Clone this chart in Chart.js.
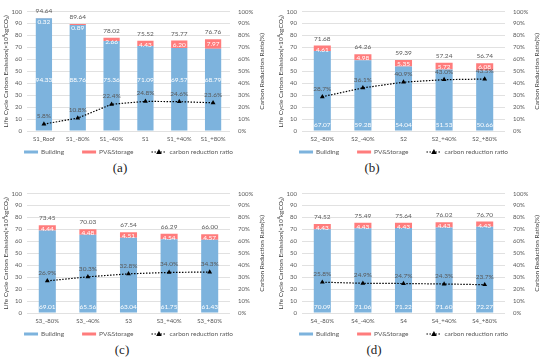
<!DOCTYPE html>
<html>
<head>
<meta charset="utf-8">
<script src="https://cdn.jsdelivr.net/npm/chart.js@4.4.1/dist/chart.umd.min.js"></script>
<style>
  body { margin: 0; background: #fff; }
  #wrap { position: relative; width: 550px; height: 358px; overflow: hidden; }
  .panel { position: absolute; width: 275px; height: 160px; }
  .cap { position: absolute; font-family: "Liberation Serif", serif; font-size: 13px; color: #222; transform: translate(-50%, -50%); }
</style>
</head>
<body>
<div id="wrap">
  <div class="panel" style="left:0;top:0"><canvas id="ca" width="275" height="160"></canvas></div>
  <div class="panel" style="left:275px;top:0"><canvas id="cb" width="275" height="160"></canvas></div>
  <div class="panel" style="left:0;top:182px"><canvas id="cc" width="275" height="160"></canvas></div>
  <div class="panel" style="left:275px;top:182px"><canvas id="cd" width="275" height="160"></canvas></div>
  <div class="cap" style="left:120px;top:168px">(a)</div>
  <div class="cap" style="left:372px;top:168px">(b)</div>
  <div class="cap" style="left:122px;top:350px">(c)</div>
  <div class="cap" style="left:374px;top:350px">(d)</div>
</div>
<script>
// panel (a)
const catsA = ['S1_Roof', 'S1_-80%', 'S1_-40%', 'S1', 'S1_+40%', 'S1_+80%'];
const buildA = [94.33, 88.76, 75.36, 71.09, 69.57, 68.79];
const pvA = [0.32, 0.89, 2.66, 4.43, 6.20, 7.97];
const totalA = [94.64, 89.64, 78.02, 75.52, 75.77, 76.76];
const ratioA = [5.8, 10.8, 22.4, 24.8, 24.6, 23.6];
// panel (b)
const catsB = ['S2_-80%', 'S2_-40%', 'S2', 'S2_+40%', 'S2_+80%'];
const buildB = [67.07, 59.28, 54.04, 51.53, 50.66];
const pvB = [4.61, 4.98, 5.35, 5.72, 6.08];
const totalB = [71.68, 64.26, 59.39, 57.24, 56.74];
const ratioB = [28.7, 36.1, 40.9, 43.0, 43.5];
// panel (c)
const catsC = ['S3_-80%', 'S3_-40%', 'S3', 'S3_+40%', 'S3_+80%'];
const buildC = [69.01, 65.56, 63.04, 61.75, 61.43];
const pvC = [4.44, 4.48, 4.51, 4.54, 4.57];
const totalC = [73.45, 70.03, 67.54, 66.29, 66.00];
const ratioC = [26.9, 30.3, 32.8, 34.0, 34.3];
// panel (d)
const catsD = ['S4_-80%', 'S4_-40%', 'S4', 'S4_+40%', 'S4_+80%'];
const buildD = [70.09, 71.06, 71.22, 71.60, 72.27];
const pvD = [4.43, 4.43, 4.43, 4.43, 4.43];
const totalD = [74.52, 75.49, 75.64, 76.02, 76.70];
const ratioD = [25.8, 24.9, 24.7, 24.3, 23.7];

const leftTicks = [0, 10, 20, 30, 40, 50, 60, 70, 80, 90, 100];
const legendNames = ['Building', 'PV&Storage', 'carbon reduction ratio'];
const leftTitle = 'Life Cycle Carbon Emission(\u00d710\u2074kgCO\u2082)';
const rightTitle = 'Carbon Reduction Ratio(%)';

const BLUE = '#7db3dd';
const RED = '#ff7c7c';
const FONT = 'Lato, "Open Sans", sans-serif';

const labelsPlugin = {
  id: 'labelsPlugin',
  afterDatasetsDraw(chart, args, opts) {
    const ctx = chart.ctx;
    const y = chart.scales.y;
    const bMeta = chart.getDatasetMeta(0);
    const pMeta = chart.getDatasetMeta(1);
    const lMeta = chart.getDatasetMeta(2);
    ctx.save();
    ctx.textAlign = 'center';
    ctx.textBaseline = 'middle';
    ctx.font = '6.5px ' + FONT;
    bMeta.data.forEach((el, i) => {
      ctx.fillStyle = '#fff';
      ctx.fillText(opts.build[i].toFixed(2), el.x, y.getPixelForValue(opts.buildAt));
      const p = pMeta.data[i];
      let cy = (p.y + p.base) / 2;
      if (cy < p.y + 4) cy = p.y + 4;
      ctx.fillText(opts.pv[i].toFixed(2), p.x, cy);
      ctx.fillStyle = '#595959';
      ctx.fillText(opts.total[i].toFixed(2), p.x, Math.max(p.y - 7, 3));
      const pt = lMeta.data[i];
      ctx.fillText(opts.ratio[i].toFixed(1) + '%', pt.x, pt.y - 8);
    });
    ctx.restore();
  },
  afterDraw(chart) {
    const ctx = chart.ctx;
    const a = chart.chartArea;
    ctx.save();
    // axis titles
    ctx.fillStyle = '#404040';
    ctx.font = '6.5px ' + FONT;
    ctx.textAlign = 'center';
    ctx.textBaseline = 'middle';
    const mid = (a.top + a.bottom) / 2;
    ctx.save();
    ctx.translate(6, mid);
    ctx.rotate(-Math.PI / 2);
    ctx.fillText(leftTitle, 0, 0);
    ctx.restore();
    ctx.save();
    ctx.translate(262, mid);
    ctx.rotate(-Math.PI / 2);
    ctx.fillText(rightTitle, 0, 0);
    ctx.restore();
    // legend
    ctx.font = '6.5px ' + FONT;
    ctx.textAlign = 'left';
    ctx.fillStyle = '#595959';
    const ly = a.bottom + 21;
    const sw = [14, 14, 15];
    const widths = legendNames.map((n, i) => sw[i] + 3 + ctx.measureText(n).width);
    const total = widths.reduce((s, w) => s + w, 0) + 18 * 2;
    let x = (a.left + a.right) / 2 - total / 2;
    legendNames.forEach((n, i) => {
      if (i < 2) {
        ctx.fillStyle = i === 0 ? BLUE : RED;
        ctx.fillRect(x, ly - 1.5, sw[i], 3);
      } else {
        ctx.strokeStyle = '#000';
        ctx.lineWidth = 1.2;
        ctx.setLineDash([1.5, 1.5]);
        ctx.beginPath();
        ctx.moveTo(x, ly);
        ctx.lineTo(x + sw[i], ly);
        ctx.stroke();
        ctx.setLineDash([]);
        ctx.fillStyle = '#000';
        const cx = x + sw[i] / 2;
        ctx.beginPath();
        ctx.moveTo(cx, ly - 3);
        ctx.lineTo(cx + 2.8, ly + 2);
        ctx.lineTo(cx - 2.8, ly + 2);
        ctx.closePath();
        ctx.fill();
      }
      ctx.fillStyle = '#595959';
      ctx.fillText(n, x + sw[i] + 3, ly);
      x += widths[i] + 18;
    });
    ctx.restore();
  }
};

function makeChart(id, cats, build, pv, total, ratio, buildAt, barPct) {
  return new Chart(document.getElementById(id), {
    type: 'bar',
    data: {
      labels: cats,
      datasets: [
        { label: legendNames[0], data: build, backgroundColor: BLUE, stack: 's', order: 1,
          categoryPercentage: 1, barPercentage: barPct },
        { label: legendNames[1], data: pv, backgroundColor: RED, stack: 's', order: 1,
          categoryPercentage: 1, barPercentage: barPct },
        { label: legendNames[2], data: ratio, type: 'line', yAxisID: 'y1', order: 0,
          borderColor: '#000', borderWidth: 1.2, borderDash: [1.5, 1.5], backgroundColor: '#000',
          pointStyle: 'triangle', pointRadius: 2.8, pointBorderWidth: 0, fill: false, tension: 0 }
      ]
    },
    options: {
      responsive: false,
      animation: false,
      events: [],
      layout: { padding: { top: 6, bottom: 15, left: 0, right: 0 } },
      plugins: {
        legend: { display: false },
        tooltip: { enabled: false },
        labelsPlugin: { build, pv, total, ratio, buildAt }
      },
      scales: {
        x: {
          stacked: true,
          grid: { display: false, drawTicks: false },
          border: { display: false },
          ticks: { color: '#595959', font: { size: 6, family: FONT }, padding: 4, maxRotation: 0, autoSkip: false },
          afterFit(s) { s.height = 14; }
        },
        y: {
          stacked: true,
          min: 0, max: 100,
          afterBuildTicks(s) { s.ticks = leftTicks.map(v => ({ value: v })); },
          grid: { color: '#d9d9d9', lineWidth: 0.8, drawTicks: false },
          border: { display: false },
          ticks: { color: '#595959', font: { size: 6, family: FONT }, padding: 5 },
          afterFit(s) { s.width = 27; }
        },
        y1: {
          position: 'right',
          min: 0, max: 100,
          afterBuildTicks(s) { s.ticks = leftTicks.map(v => ({ value: v })); },
          grid: { display: false, drawTicks: false },
          border: { display: false },
          ticks: { color: '#595959', font: { size: 6, family: FONT }, padding: 8, callback: v => v + '%' },
          afterFit(s) { s.width = 45; }
        }
      }
    },
    plugins: [labelsPlugin]
  });
}

makeChart('ca', catsA, buildA, pvA, totalA, ratioA, 43, 0.48);
makeChart('cb', catsB, buildB, pvB, totalB, ratioB, 5, 0.42);
makeChart('cc', catsC, buildC, pvC, totalC, ratioC, 5, 0.42);
makeChart('cd', catsD, buildD, pvD, totalD, ratioD, 5, 0.42);
</script>
</body>
</html>
